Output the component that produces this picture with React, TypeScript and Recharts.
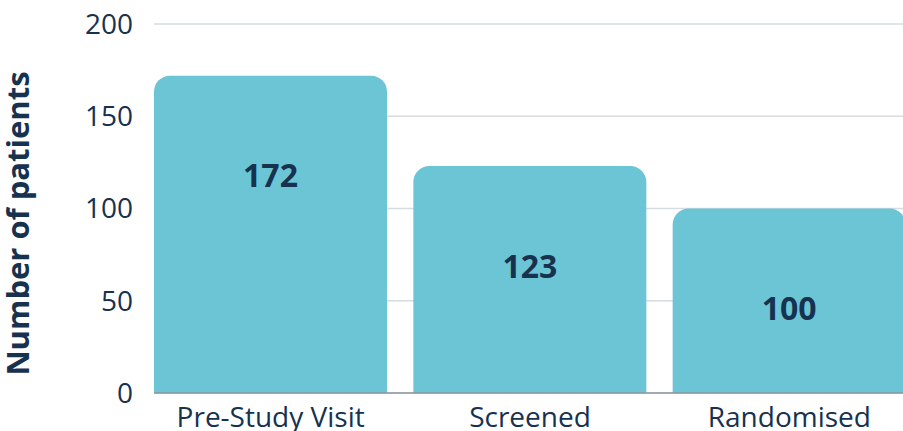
import { BarChart, Bar, XAxis, YAxis, CartesianGrid, LabelList, Label } from "recharts"

const stages = ["Pre-Study Visit", "Screened", "Randomised"]
const patients = [172, 123, 100]
const yTicks = [0, 50, 100, 150, 200]

const data = stages.map((stage, i) => ({ stage, patients: patients[i] }))

const navy = "#17324f"
const font = "'Open Sans', sans-serif"
const tickStyle = { fontSize: 28, fill: navy, fontFamily: font }

function YTitle(props: any) {
  const { x, y, height } = props.viewBox
  const cx = x + 17
  const cy = y + height / 2 + 15
  return (
    <text
      x={cx}
      y={cy}
      transform={`rotate(-90 ${cx} ${cy})`}
      textAnchor="middle"
      dominantBaseline="central"
      fontFamily={font}
      fontWeight={700}
      fontSize={31}
      fill={navy}
    >
      Number of patients
    </text>
  )
}

export default function App() {
  return (
    <div
      style={{
        position: "fixed",
        top: 0,
        left: 0,
        width: 903,
        height: 431,
        overflow: "hidden",
        background: "#fff",
      }}
    >
      <BarChart
        width={919}
        height={431}
        data={data}
        margin={{ top: 24, right: 0, left: 0, bottom: 0 }}
      >
        <CartesianGrid vertical={false} stroke="#d6dce2" strokeWidth={1.5} />
        <XAxis
          dataKey="stage"
          interval={0}
          tick={tickStyle}
          tickLine={false}
          axisLine={{ stroke: "#8c959f", strokeWidth: 1.5 }}
          tickMargin={8}
          height={38}
          padding={{ left: -13, right: 0 }}
        />
        <YAxis
          domain={[0, 200]}
          ticks={yTicks}
          tick={tickStyle}
          tickLine={false}
          axisLine={false}
          tickMargin={15}
          width={154}
        >
          <Label content={YTitle} />
        </YAxis>
        <Bar
          dataKey="patients"
          fill="#6cc5d5"
          barSize={233}
          radius={[16, 16, 0, 0]}
          isAnimationActive={false}
        >
          <LabelList
            dataKey="patients"
            position="insideTop"
            offset={89}
            fill={navy}
            fontSize={32}
            fontWeight={700}
            fontFamily={font}
          />
        </Bar>
      </BarChart>
    </div>
  )
}
